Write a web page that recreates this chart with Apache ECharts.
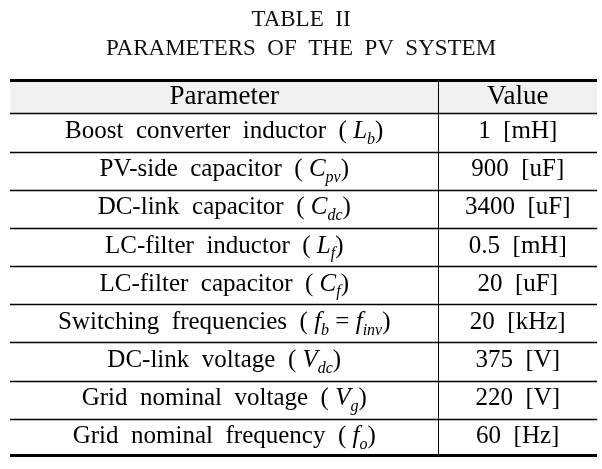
<!DOCTYPE html>
<html><head><meta charset="utf-8">
<script src="https://cdn.jsdelivr.net/npm/echarts@6/dist/echarts.min.js"></script>
<style>html,body{margin:0;padding:0;background:#fff}#c{width:602px;height:469px}</style>
</head><body><div id="c"></div>
<script>
const titleLines = ['TABLE II', 'PARAMETERS OF THE PV SYSTEM'];
const headers = ['Parameter', 'Value'];
const paramNames = ['Boost converter inductor', 'PV-side capacitor', 'DC-link capacitor', 'LC-filter inductor', 'LC-filter capacitor', 'Switching frequencies', 'DC-link voltage', 'Grid nominal voltage', 'Grid nominal frequency'];
const paramSymbols = ['L_b', 'C_pv', 'C_dc', 'L_f', 'C_f', 'f_b = f_inv', 'V_dc', 'V_g', 'f_o'];
const paramValues = ['1', '900', '3400', '0.5', '20', '20', '375', '220', '60'];
const paramUnits = ['mH', 'uF', 'uF', 'mH', 'uF', 'kHz', 'V', 'V', 'Hz'];

const FONT = '"Liberation Serif", "Times New Roman", serif';
const HEADER_H = 0.9;
const SPLIT = 0.729;
const rows = [0].concat(paramNames.map((_, i) => i + 1));

function wide(s) { return s.replace(/ /g, '  '); }
function symRich(sym) {
  return sym.split(' ').map(tok => {
    if (tok.indexOf('_') >= 0) {
      const [m, s] = tok.split('_');
      return '{it|' + m + '}{sub|' + s + '}';
    }
    return '{n| ' + tok + ' }';
  }).join('');
}
const rich = {
  h: { fontFamily: FONT, fontSize: 27, color: '#111', lineHeight: 30 },
  n: { fontFamily: FONT, fontSize: 25, color: '#111', lineHeight: 32 },
  it: { fontFamily: FONT, fontSize: 25, fontStyle: 'italic', color: '#111', lineHeight: 32 },
  sub: { fontFamily: FONT, fontSize: 16, fontStyle: 'italic', color: '#111', lineHeight: 17, verticalAlign: 'bottom' }
};

function renderItem(params, api) {
  const r = api.value(0);
  const isHeader = r === 0;
  const y0 = isHeader ? 0 : HEADER_H + (r - 1);
  const y1 = isHeader ? HEADER_H : HEADER_H + r;
  const pA = api.coord([0, y0]);
  const pB = api.coord([1, y1]);
  const pS = api.coord([SPLIT, y0]);
  const xl = pA[0], xr = pB[0], xs = Math.round(pS[0]) + 0.5;
  const top = pA[1], bot = pB[1];
  const cy = (top + bot) / 2;
  const children = [];
  if (isHeader) {
    children.push({ type: 'rect', shape: { x: xl, y: top, width: xr - xl, height: bot - top }, style: { fill: '#f0f0f0' } });
  }
  children.push({ type: 'line', shape: { x1: xs, y1: top, x2: xs, y2: bot }, style: { stroke: '#000', lineWidth: 1 } });
  if (isHeader) {
    children.push({ type: 'line', shape: { x1: xl, y1: top + 1.5, x2: xr, y2: top + 1.5 }, style: { stroke: '#000', lineWidth: 3 } });
  }
  const last = r === paramNames.length;
  if (last) {
    children.push({ type: 'line', shape: { x1: xl, y1: bot - 1.5, x2: xr, y2: bot - 1.5 }, style: { stroke: '#000', lineWidth: 3 } });
  } else {
    const yb = Math.round(bot) + 0.5;
    children.push({ type: 'line', shape: { x1: xl, y1: yb, x2: xr, y2: yb }, style: { stroke: '#000', lineWidth: 1.3 } });
  }
  let leftText, rightText;
  if (isHeader) {
    leftText = '{h|' + headers[0] + '}';
    rightText = '{h|' + headers[1] + '}';
  } else {
    const i = r - 1;
    leftText = '{n|' + wide(paramNames[i]) + '  ( }' + symRich(paramSymbols[i]) + '{n|)}';
    rightText = '{n|' + paramValues[i] + '  [' + paramUnits[i] + ']}';
  }
  const dy = isHeader ? 1 : -1;
  children.push({ type: 'text', style: { text: leftText, x: (xl + xs) / 2, y: cy + dy, align: 'center', verticalAlign: 'middle', rich: rich } });
  children.push({ type: 'text', style: { text: rightText, x: (xs + xr) / 2, y: cy + dy, align: 'center', verticalAlign: 'middle', rich: rich } });
  return { type: 'group', children: children };
}

const chart = echarts.init(document.getElementById('c'), null, { renderer: 'canvas' });
chart.setOption({
  animation: false,
  backgroundColor: '#fff',
  title: {
    text: titleLines.map(wide).join('\n'),
    left: 'center', top: 0,
    textStyle: { fontFamily: FONT, fontSize: 23, fontWeight: 'normal', color: '#111', lineHeight: 29 }
  },
  grid: { left: 10, right: 5, top: 79, bottom: 12 },
  xAxis: { type: 'value', min: 0, max: 1, show: false },
  yAxis: { type: 'value', min: 0, max: HEADER_H + paramNames.length, inverse: true, show: false },
  series: [{
    type: 'custom',
    renderItem: renderItem,
    data: rows.map(r => [r]),
    encode: { y: 0 },
    clip: false
  }]
});
</script></body></html>
